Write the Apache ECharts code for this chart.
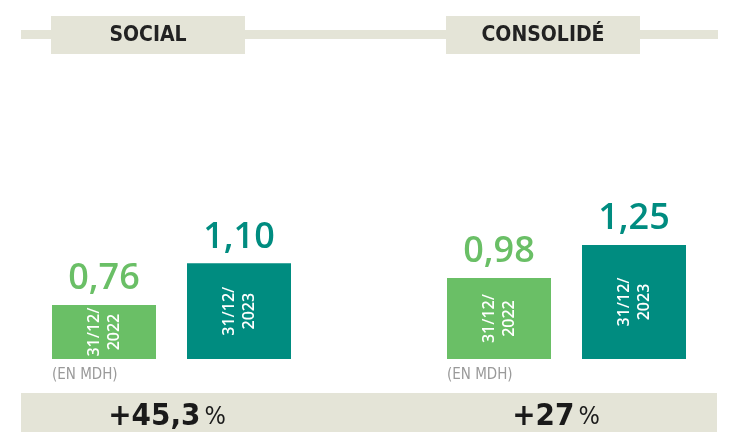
<!DOCTYPE html>
<html>
<head>
<meta charset="utf-8">
<script src="https://cdn.jsdelivr.net/npm/echarts@6/dist/echarts.min.js"></script>
<style>
  html, body { margin: 0; padding: 0; background: #fff; }
  #main { width: 730px; height: 432px; }
</style>
</head>
<body>
<div id="main"></div>
<script>
    // chart values
    var groups = ['SOCIAL', 'CONSOLIDÉ'];
    var dates = ['31/12/\n2022', '31/12/\n2023'];
    var social = [0.76, 1.10];
    var consolide = [0.98, 1.25];
    var growth = ['+45,3', '+27'];
    var unit = '(EN MDH)';

    var colors = ['#6abf66', '#008c80'];
    var beige = '#e4e4d7';
    var yMin = 0.32, yMax = 2.0;

    function fmt(v) {
        return v.toFixed(2).replace('.', ',');
    }

    var grids = [
        { left: 36.5, width: 270, top: 153, bottom: 73 },
        { left: 431.5, width: 270, top: 153, bottom: 73 }
    ];

    var xAxes = [], yAxes = [], series = [];
    [social, consolide].forEach(function (vals, i) {
        xAxes.push({
            type: 'category', gridIndex: i, data: dates,
            axisLine: { show: false }, axisTick: { show: false }, axisLabel: { show: false }
        });
        yAxes.push({
            type: 'value', gridIndex: i, min: yMin, max: yMax,
            axisLine: { show: false }, axisTick: { show: false },
            axisLabel: { show: false }, splitLine: { show: false }
        });
        // visible bars with the date written inside
        series.push({
            type: 'bar', xAxisIndex: i, yAxisIndex: i, barWidth: 104,
            data: vals.map(function (v, j) {
                return { value: v, itemStyle: { color: colors[j] } };
            }),
            label: {
                show: true, position: 'inside', rotate: 90,
                formatter: '{b}', color: '#fff',
                fontFamily: 'Open Sans', fontWeight: 600, fontSize: 16, lineHeight: 20
            },
            silent: true
        });
        // transparent twin bars carrying the value on top
        series.push({
            type: 'bar', xAxisIndex: i, yAxisIndex: i, barWidth: 104, barGap: '-100%',
            data: vals.map(function (v, j) {
                return {
                    value: v, itemStyle: { color: 'rgba(0,0,0,0)' },
                    label: { color: colors[j] }
                };
            }),
            label: {
                show: true, position: 'top', distance: 8,
                formatter: function (p) { return fmt(p.value); },
                fontFamily: 'Open Sans', fontWeight: 600, fontSize: 36, lineHeight: 36
            },
            silent: true
        });
    });

    var graphics = [
        { type: 'rect', shape: { x: 21, y: 30, width: 697, height: 9 }, style: { fill: beige } },
        { type: 'rect', shape: { x: 21, y: 393, width: 696, height: 39 }, style: { fill: beige } }
    ];
    var headCx = [148, 543];
    var growthCx = [167, 556];
    var unitX = [52, 447];
    groups.forEach(function (g, i) {
        graphics.push({ type: 'rect', shape: { x: headCx[i] - 97, y: 16, width: 194, height: 38 }, style: { fill: beige } });
        graphics.push({
            type: 'text', x: headCx[i], y: 36,
            style: {
                text: g, align: 'center', verticalAlign: 'middle', fill: '#222',
                font: 'bold 21px "DejaVu Sans Condensed", sans-serif'
            }
        });
        graphics.push({
            type: 'text', x: unitX[i], y: 375,
            style: {
                text: unit, align: 'left', verticalAlign: 'middle', fill: '#9a9a9a',
                font: '15px "DejaVu Sans Condensed", sans-serif'
            }
        });
        graphics.push({
            type: 'text', x: growthCx[i], y: 417,
            style: {
                text: '{a|' + growth[i] + '}{b|%}', align: 'center', verticalAlign: 'middle',
                rich: {
                    a: { fontFamily: 'DejaVu Sans Condensed', fontWeight: 'bold', fontSize: 31, fill: '#1a1a1a' },
                    b: { fontFamily: 'DejaVu Sans Condensed', fontWeight: 'normal', fontSize: 25, fill: '#1a1a1a', padding: [0, 0, 0, 4] }
                }
            }
        });
    });

    var myChart = echarts.init(document.getElementById('main'));
    myChart.setOption({
        animation: false,
        grid: grids,
        xAxis: xAxes,
        yAxis: yAxes,
        series: series,
        graphic: graphics
    });
</script>
</body>
</html>
